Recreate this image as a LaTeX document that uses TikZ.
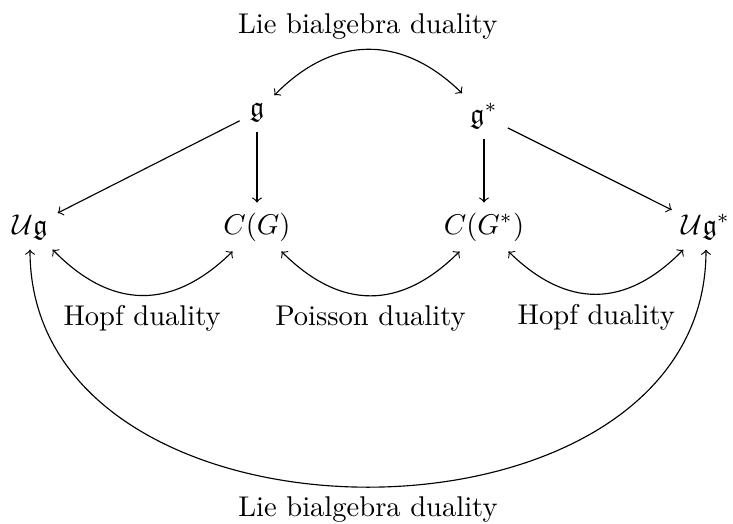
\documentclass[tikz,border=0pt]{standalone}
\usepackage{amsmath,amssymb}
\begin{document}
\begin{tikzpicture}[x=0.35pt,y=0.35pt,
  every node/.style={inner sep=0.3333em},
  arr/.style={->},
  dual/.style={<->}]
\useasboundingbox (0,0) rectangle (733,-524);
\node (g)   at (257,-112) {$\mathfrak{g}$};
\node (gs)  at (484,-116) {$\mathfrak{g}^*$};
\node (Ug)  at (30,-227)  {$\mathcal{U}\mathfrak{g}$};
\node (CG)  at (257,-227) {$C(G)$};
\node (CGs) at (484,-227) {$C(G^*)$};
\node (Ugs) at (706,-227) {$\mathcal{U}\mathfrak{g}^*$};
\draw[arr] (g) -- (Ug);
\draw[arr] (g) -- (CG);
\draw[arr] (gs) -- (CGs);
\draw[arr] (gs) -- (Ugs);
\draw[dual] (g) to[bend left=45,looseness=1.15] node[above] (l1) {Lie bialgebra duality} (gs);
\draw[dual] (Ug) to[bend right=45,looseness=1.2] node[below] (l2) {Hopf duality} (CG);
\draw[dual] (CG) to[bend right=45,looseness=1.2] node[below] (l3) {Poisson duality} (CGs);
\draw[dual] (CGs) to[bend right=45,looseness=1.2] node[below] (l4) {Hopf duality} (Ugs);
\draw[dual] (Ug) to[out=-90,in=-90,looseness=1.2] node[below] (l5) {Lie bialgebra duality} (Ugs);
\end{tikzpicture}
\end{document}
